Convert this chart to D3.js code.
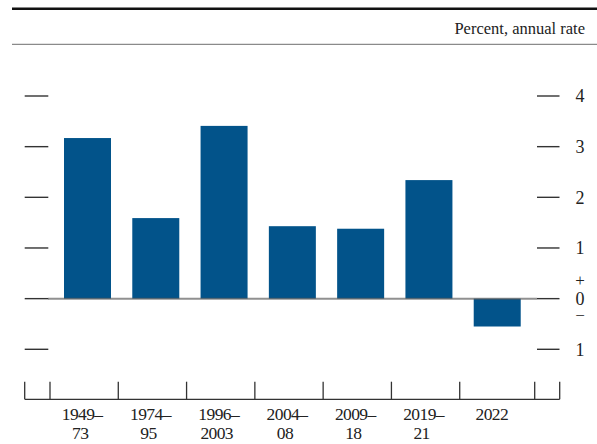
<!DOCTYPE html>
<html>
<head>
<meta charset="utf-8">
<script src="https://cdn.jsdelivr.net/npm/d3@7"></script>
<style>
  body { margin: 0; background: #fff; }
  text { font-family: "Liberation Serif", "Times New Roman", serif; fill: #222; }
</style>
</head>
<body>
<div id="chart"></div>
<script>
// Chart data
var categories = ["1949–73", "1974–95", "1996–2003", "2004–08", "2009–18", "2019–21", "2022"];
var values = [3.17, 1.59, 3.41, 1.43, 1.38, 2.34, -0.55];
var yTicks = [-1, 0, 1, 2, 3, 4];
var unitsLabel = "Percent, annual rate";

var W = 597, H = 444;
var barColor = "#02538a";

var svg = d3.select("#chart")
  .append("svg")
  .attr("width", W)
  .attr("height", H);

// Scales
var y = d3.scaleLinear().domain([-1, 4]).range([349.3, 96]);
var x = d3.scaleBand().domain(categories).range([50, 528]).paddingInner(0).paddingOuter(0);

// Frame lines at the top
svg.append("line")
  .attr("x1", 12).attr("x2", W)
  .attr("y1", 8.7).attr("y2", 8.7)
  .attr("stroke", "#111").attr("stroke-width", 2.5);

svg.append("line")
  .attr("x1", 12).attr("x2", W)
  .attr("y1", 44.3).attr("y2", 44.3)
  .attr("stroke", "#8a8a8a").attr("stroke-width", 1.3);

svg.append("text")
  .attr("x", 585)
  .attr("y", 34)
  .attr("text-anchor", "end")
  .style("font-size", "16.5px")
  .text(unitsLabel);

// Bars
svg.selectAll("rect.bar")
  .data(values)
  .enter()
  .append("rect")
  .attr("class", "bar")
  .attr("x", function (d, i) { return x(categories[i]) + 14; })
  .attr("width", 47)
  .attr("y", function (d) { return y(Math.max(0, d)); })
  .attr("height", function (d) { return Math.abs(y(d) - y(0)); })
  .attr("fill", barColor);

// Zero line
svg.append("line")
  .attr("x1", 48).attr("x2", 537)
  .attr("y1", y(0)).attr("y2", y(0))
  .attr("stroke", "#555").attr("stroke-opacity", 0.65).attr("stroke-width", 2);

// Y ticks on both sides
var tickG = svg.append("g");
yTicks.forEach(function (t) {
  tickG.append("line")
    .attr("x1", 24.7).attr("x2", 48.3)
    .attr("y1", y(t)).attr("y2", y(t))
    .attr("stroke", "#333").attr("stroke-width", 1.4);
  tickG.append("line")
    .attr("x1", 537).attr("x2", 559.5)
    .attr("y1", y(t)).attr("y2", y(t))
    .attr("stroke", "#333").attr("stroke-width", 1.4);
  tickG.append("text")
    .attr("x", 580)
    .attr("y", y(t))
    .attr("dy", "0.35em")
    .attr("text-anchor", "middle")
    .style("font-size", "18px")
    .text(Math.abs(t));
});

// plus / minus around zero
tickG.append("text")
  .attr("x", 580).attr("y", y(0) - 19)
  .attr("dy", "0.35em")
  .attr("text-anchor", "middle")
  .style("font-size", "17px")
  .text("+");
tickG.append("text")
  .attr("x", 580).attr("y", y(0) + 16)
  .attr("dy", "0.35em")
  .attr("text-anchor", "middle")
  .style("font-size", "17px")
  .text("−");

// Bottom axis
var axisY = 399.3, tickTop = 381.7;
var xAxisG = svg.append("g");
xAxisG.append("line")
  .attr("x1", 24.7).attr("x2", 559.7)
  .attr("y1", axisY).attr("y2", axisY)
  .attr("stroke", "#333").attr("stroke-width", 1.3);

var sepX = categories.map(function (c) { return x(c); });
sepX = [24.7].concat(sepX).concat([534.7, 559.7]);
xAxisG.selectAll("line.sep")
  .data(sepX)
  .enter()
  .append("line")
  .attr("class", "sep")
  .attr("x1", function (d) { return d; })
  .attr("x2", function (d) { return d; })
  .attr("y1", tickTop).attr("y2", axisY)
  .attr("stroke", "#333").attr("stroke-width", 1.3);

// Category labels, split after the dash
categories.forEach(function (c) {
  var cx = x(c) + x.bandwidth() / 2;
  var k = c.indexOf("–");
  var lines = k >= 0 ? [c.slice(0, k + 1), c.slice(k + 1)] : [c];
  var label = xAxisG.append("text")
    .attr("text-anchor", "middle")
    .style("font-size", "17.5px")
    .style("letter-spacing", "-0.6px");
  lines.forEach(function (l, j) {
    label.append("tspan")
      .attr("x", j === 0 ? cx - 2 : cx - 4)
      .attr("y", 420 + j * 19)
      .text(l);
  });
});
</script>
</body>
</html>
